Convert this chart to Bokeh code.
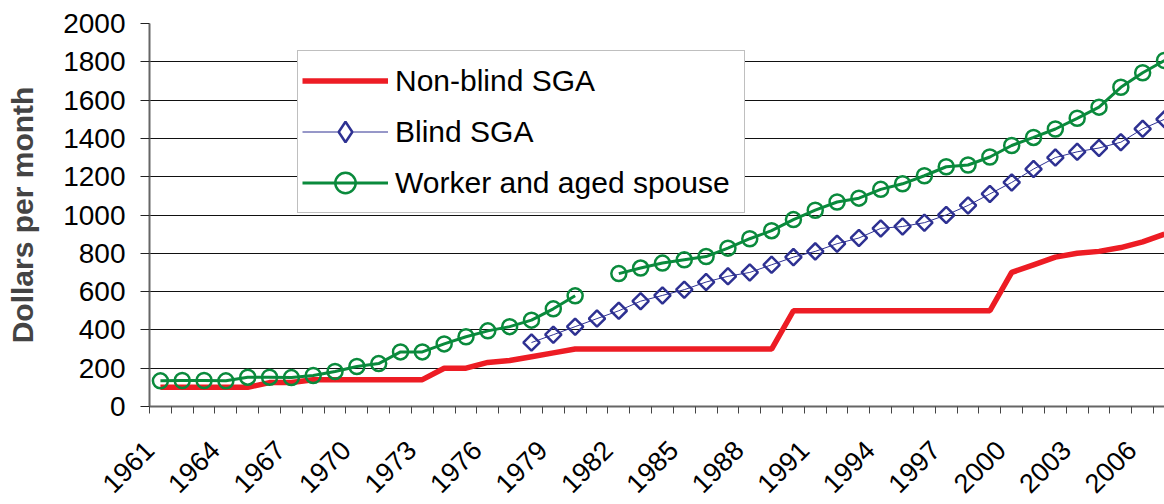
import math
from bokeh.plotting import figure
from bokeh.models import FixedTicker, Legend, LegendItem, Range1d
from bokeh.embed import file_html
from bokeh.resources import INLINE

years = list(range(1961, 2008))

nonblind_sga = [100, 100, 100, 100, 100, 125, 125, 140, 140, 140,
                140, 140, 140, 200, 200, 230, 240, 260, 280, 300,
                300, 300, 300, 300, 300, 300, 300, 300, 300, 500,
                500, 500, 500, 500, 500, 500, 500, 500, 500, 700,
                740, 780, 800, 810, 830, 860, 900]

blind_years = list(range(1978, 2008))
blind_sga = [334, 375, 417, 459, 500, 550, 580, 610, 650, 680,
             700, 740, 780, 810, 850, 880, 930, 940, 960, 1000,
             1050, 1110, 1170, 1240, 1300, 1330, 1350, 1380, 1450, 1500]

nan = float("nan")
worker_spouse = [134, 136, 136, 134, 153, 153, 151, 162, 183, 209,
                 224, 285, 285, 327, 364, 395, 417, 451, 510, 578,
                 nan, 694, 723, 749, 766, 783, 827, 876, 918, 976,
                 1025, 1068, 1088, 1134, 1163, 1205, 1252, 1261, 1303, 1363,
                 1405, 1449, 1505, 1563, 1667, 1743, 1807]

label_years = list(range(1961, 2007, 3))
y_ticks = list(range(0, 2001, 200))

FONT = "Liberation Sans"
RED = "#ED1C24"
NAVY = "#2E3192"
GREEN = "#0A8A3C"

# rotated year labels are anchored at the left boundary of their category
label_pos = [y - 0.5 for y in label_years]

p = figure(width=1164, height=504, output_backend="svg", toolbar_location=None,
           x_range=Range1d(1960.5, 2007.0), y_range=Range1d(0, 2000),
           min_border_left=149, min_border_right=0, min_border_top=23,
           min_border_bottom=97)
p.outline_line_color = None
p.background_fill_color = "white"
p.border_fill_color = "white"

# grid
p.xgrid.grid_line_color = None
p.ygrid.ticker = FixedTicker(ticks=y_ticks)
p.ygrid.grid_line_color = "#111111"
p.ygrid.grid_line_width = 1

# y axis
p.yaxis.ticker = FixedTicker(ticks=y_ticks)
p.yaxis.axis_label = "Dollars per month"
p.yaxis.axis_label_text_font = FONT
p.yaxis.axis_label_text_font_style = "bold"
p.yaxis.axis_label_text_font_size = "30px"
p.yaxis.axis_label_standoff = 21
p.yaxis.major_label_text_font = FONT
p.yaxis.major_label_text_font_size = "28px"
p.yaxis.major_label_text_color = "black"
p.yaxis.major_label_standoff = 15
p.yaxis.axis_line_color = "#666666"
p.yaxis.axis_line_width = 2
p.yaxis.major_tick_line_color = "#222222"
p.yaxis.major_tick_out = 9
p.yaxis.major_tick_in = 0
p.yaxis.minor_tick_line_color = None

# x axis
p.xaxis.ticker = FixedTicker(ticks=label_pos,
                             minor_ticks=[y - 0.5 for y in range(1961, 2009)])
p.xaxis.major_label_overrides = {pos: str(yr) for pos, yr in zip(label_pos, label_years)}
p.xaxis.major_label_orientation = math.pi / 4
p.xaxis.major_label_text_font = FONT
p.xaxis.major_label_text_font_size = "27px"
p.xaxis.major_label_text_color = "black"
p.xaxis.major_label_standoff = 32
p.xaxis.axis_line_color = "#666666"
p.xaxis.axis_line_width = 2
p.xaxis.major_tick_line_color = None
p.xaxis.minor_tick_line_color = "#444444"
p.xaxis.minor_tick_out = 7
p.xaxis.minor_tick_in = 0

r_red = p.line(years, nonblind_sga, line_color=RED, line_width=5.5)

r_blind_line = p.line(blind_years, blind_sga, line_color=NAVY, line_width=1)
r_blind_pts = p.scatter(blind_years, blind_sga, marker="square", angle=math.pi / 4,
                        size=11.5, line_color=NAVY, line_width=2.5, fill_alpha=0)
# hidden copy used only for the legend key (legend keys ignore marker angle)
r_blind_key = p.scatter(blind_years, blind_sga, marker="diamond", size=15,
                        line_color=NAVY, line_width=2.5, fill_color="white",
                        visible=False)

r_green_line = p.line(years, worker_spouse, line_color=GREEN, line_width=3)
r_green_pts = p.scatter(years, worker_spouse, marker="circle", size=15,
                        line_color=GREEN, line_width=2.5, fill_alpha=0)

legend = Legend(items=[
    LegendItem(label="Non-blind SGA", renderers=[r_red]),
    LegendItem(label="Blind SGA", renderers=[r_blind_line, r_blind_key]),
    LegendItem(label="Worker and aged spouse", renderers=[r_green_line, r_green_pts]),
], location=(148, 193))
legend.label_text_font = FONT
legend.label_text_font_size = "30px"
legend.label_text_color = "black"
legend.glyph_width = 86
legend.glyph_height = 51
legend.label_height = 51
legend.label_width = 345
legend.label_standoff = 7
legend.padding = 4
legend.spacing = 0
legend.margin = 0
legend.border_line_color = "#808080"
legend.border_line_width = 1.5
legend.background_fill_color = "white"
legend.background_fill_alpha = 1
legend.inactive_fill_alpha = 0
p.add_layout(legend, "center")

open("out.html", "w").write(file_html(p, INLINE))
